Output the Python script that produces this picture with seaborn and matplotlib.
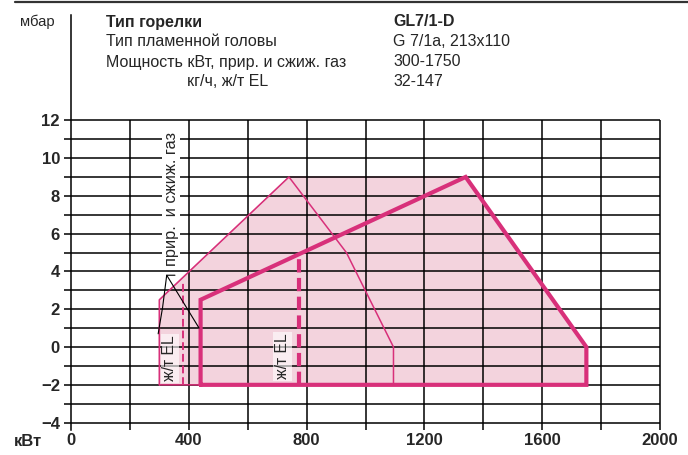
import numpy as np
import pandas as pd
import seaborn as sns
import matplotlib.pyplot as plt

# Burner working field GL7/1-D, kW vs mbar
gas_kw = [300, 300, 740, 1340, 1750, 1750, 300]
gas_mbar = [-2, 2.5, 9, 9, 0, -2, -2]

oil_kw = [440, 440, 1340, 1750, 1750, 440]
oil_mbar = [-2, 2.5, 9, 0, -2, -2]

# smaller head setting (thin line)
head_kw = [300, 300, 740, 935, 1095, 1095, 300]
head_mbar = [-2, 2.5, 9, 5, 0, -2, -2]

# minimum start lines (dashed)
gas_start_kw = [380, 380]
gas_start_mbar = [-2, 3.5]
oil_start_kw = [775, 775]
oil_start_mbar = [-2, 4.9]

x_ticks = [0, 400, 800, 1200, 1600, 2000]
y_ticks = [-4, -2, 0, 2, 4, 6, 8, 10, 12]

header_left = ["Тип горелки", "Тип пламенной головы",
               "Мощность кВт, прир. и сжиж. газ", "кг/ч, ж/т EL"]
header_right = ["GL7/1-D", "G 7/1a, 213x110", "300-1750", "32-147"]

PINK = "#d8307a"
FILL = "#f3d3dd"

sns.set_style("white")
plt.rcParams['font.family'] = ['Liberation Sans', 'DejaVu Sans']

fig = plt.figure(figsize=(6.88, 4.55), dpi=100)
ax = fig.add_axes([71 / 688, 25 / 455, 589 / 688, 415 / 455])
ax.set_xlim(0, 2000)
ax.set_ylim(-4.39, 17.57)

# shaded field
ax.fill(gas_kw, gas_mbar, facecolor=FILL, edgecolor="#e585ab", lw=0.8, zorder=1)

# grid
ax.hlines(np.arange(-4, 13), 0, 2000, colors="black", lw=1.1, zorder=2)
ax.vlines(np.arange(200, 2001, 200), -4.39, 12, colors="black", lw=1.1,
          zorder=2, clip_on=False)

# outlines
df_head = pd.DataFrame({"kw": head_kw, "mbar": head_mbar})
df_oil = pd.DataFrame({"kw": oil_kw, "mbar": oil_mbar})
sns.lineplot(data=df_head, x="kw", y="mbar", sort=False, estimator=None,
             color=PINK, lw=1.1, ax=ax, zorder=3)
sns.lineplot(data=df_oil, x="kw", y="mbar", sort=False, estimator=None,
             color=PINK, lw=3, ax=ax, zorder=4, solid_joinstyle="miter")
ax.plot(gas_start_kw, gas_start_mbar, color=PINK, lw=1.4, dashes=(4, 2), zorder=3)
ax.plot(oil_start_kw, oil_start_mbar, color=PINK, lw=3, dashes=(3.2, 1.3), zorder=4)

# labels inside the field
ax.text(336, -0.6, "ж/т EL", rotation=90, ha="center", va="center", fontsize=11.3,
        zorder=5, bbox=dict(boxstyle="square,pad=0.12", fc="white", ec="none", alpha=0.6))
ax.text(719, -0.5, "ж/т EL", rotation=90, ha="center", va="center", fontsize=11.3,
        zorder=5, bbox=dict(boxstyle="square,pad=0.12", fc="white", ec="none", alpha=0.6))
ax.text(340, 7.85, "прир.  и сжиж. газ", rotation=90, ha="center", va="center",
        fontsize=11.8, zorder=5,
        bbox=dict(boxstyle="square,pad=0.1", fc="white", ec="none"))
ax.plot([353, 325, 311, 296], [3.8, 3.8, 2.1, 0.7], color="black", lw=0.8, zorder=6)
ax.plot([325, 435], [3.8, 1.0], color="black", lw=0.8, zorder=6)

# axes styling
ax.set_xlabel("")
ax.set_ylabel("")
for s in ["top", "right", "bottom"]:
    ax.spines[s].set_visible(False)
ax.spines["left"].set_color("black")
ax.spines["left"].set_linewidth(1.1)
ax.set_yticks(y_ticks)
ax.set_yticks(np.arange(-3, 12, 2), minor=True)
ax.set_yticklabels([str(v).replace("-", "\u2212") for v in y_ticks],
                   fontweight="bold", fontsize=12)
ax.tick_params(axis="y", which="both", direction="out", length=5, width=1.1,
               color="black", pad=3, left=True)
ax.set_xticks(x_ticks)
ax.set_xticklabels([str(v) for v in x_ticks], fontweight="bold", fontsize=12)
ax.tick_params(axis="x", length=0, pad=2)

# header
fig.add_artist(plt.Line2D([15 / 688, 1], [1 - 2 / 455, 1 - 2 / 455],
                          color="#333333", lw=1.6))
fig.text(20 / 688, 1 - 22 / 455, "мбар", fontsize=10.7, va="center")
fig.text(28 / 688, 1 - 441 / 455, "кВт", fontsize=12, fontweight="bold",
         va="center", ha="center")
rows_y = [22, 42, 62, 82]
for i, (l, r) in enumerate(zip(header_left, header_right)):
    w = "bold" if i == 0 else "normal"
    lx = 187 if i == 3 else 106
    fig.text(lx / 688, 1 - rows_y[i] / 455, l, fontsize=11.5, fontweight=w, va="center")
    fig.text(393 / 688, 1 - rows_y[i] / 455, r, fontsize=11.5, fontweight=w, va="center")

fig.savefig("out.png", dpi=100)
